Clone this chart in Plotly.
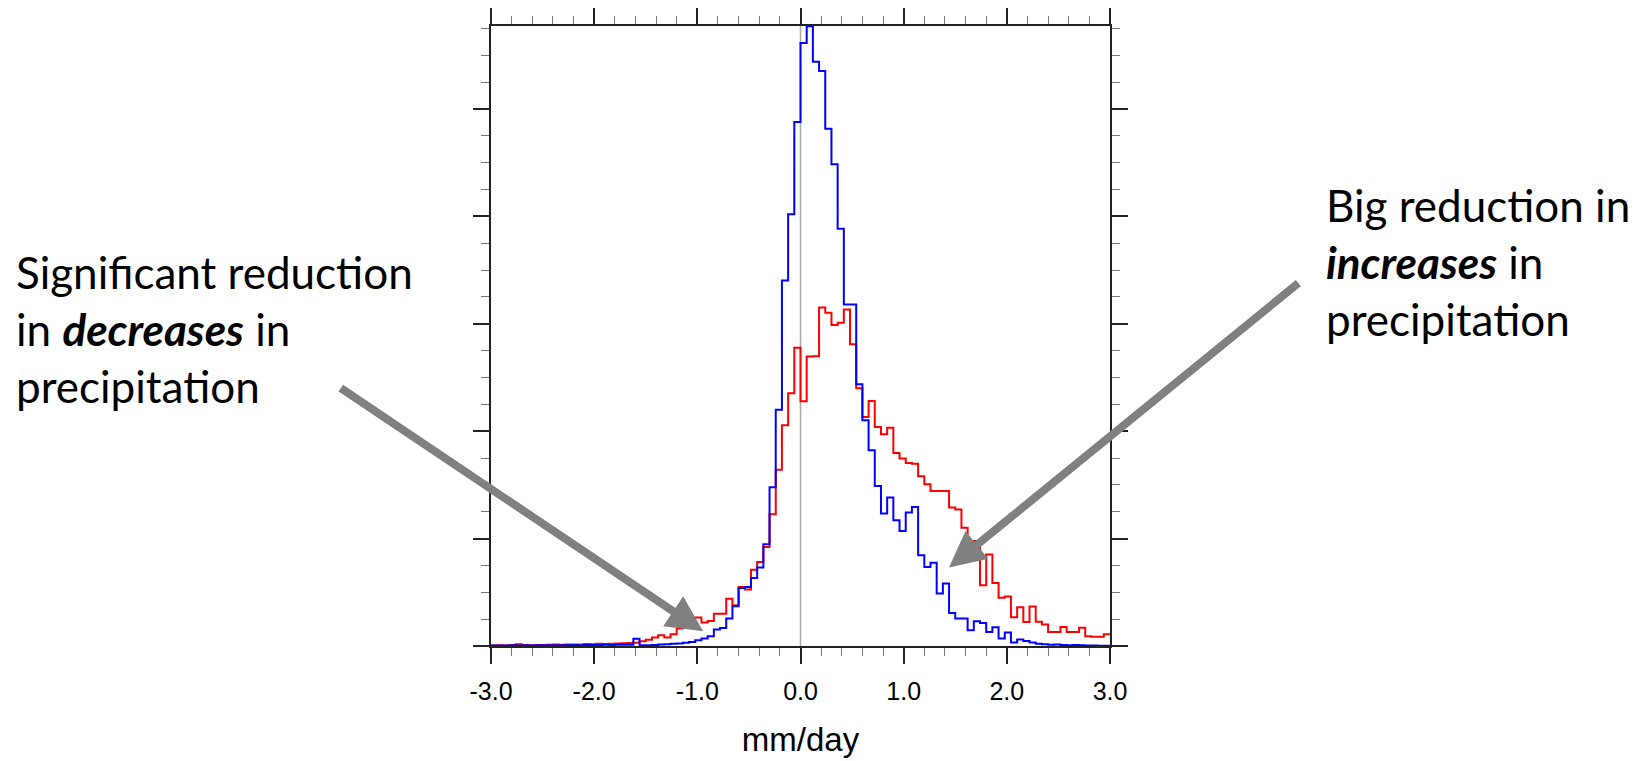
import plotly.graph_objects as go

# ---------------- data ----------------
BIN_START = -3.0
BIN_WIDTH = 0.06

# blue histogram (100 bins from -3.0 to 3.0), arbitrary frequency units
blue = [
    0.004, 0.005, 0.004, 0.006, 0.005, 0.006, 0.005, 0.007, 0.006, 0.007,
    0.008, 0.007, 0.008, 0.009, 0.008, 0.010, 0.009, 0.010, 0.011, 0.010,
    0.012, 0.011, 0.012, 0.068, 0.006, 0.008, 0.010, 0.013, 0.016, 0.020,
    0.024, 0.030, 0.037, 0.053, 0.069, 0.090, 0.153, 0.168, 0.255, 0.370,
    0.540, 0.550, 0.633, 0.730, 0.948, 1.479, 2.199, 3.404, 4.020, 4.880,
    5.615, 5.770, 5.440, 5.354, 4.817, 4.485, 3.886, 3.180, 3.180, 2.437,
    2.102, 1.822, 1.490, 1.233, 1.382, 1.170, 1.071, 1.242, 1.294, 0.844,
    0.736, 0.776, 0.488, 0.581, 0.307, 0.255, 0.255, 0.146, 0.230, 0.215,
    0.130, 0.175, 0.069, 0.125, 0.032, 0.060, 0.047, 0.032, 0.022, 0.016,
    0.012, 0.014, 0.010, 0.008, 0.009, 0.006, 0.005, 0.004, 0.003, 0.002,
]

# red histogram
red = [
    0.004, 0.006, 0.005, 0.008, 0.016, 0.010, 0.006, 0.008, 0.010, 0.012,
    0.013, 0.011, 0.014, 0.015, 0.013, 0.018, 0.016, 0.020, 0.018, 0.022,
    0.024, 0.026, 0.028, 0.031, 0.044, 0.059, 0.078, 0.100, 0.078, 0.109,
    0.162, 0.200, 0.261, 0.265, 0.218, 0.233, 0.301, 0.301, 0.441, 0.379,
    0.550, 0.525, 0.711, 0.782, 0.922, 1.226, 1.642, 2.055, 2.353, 2.778,
    2.280, 2.695, 2.697, 3.153, 3.102, 2.990, 3.009, 3.133, 2.810, 2.400,
    2.132, 2.281, 2.039, 1.971, 2.033, 1.797, 1.745, 1.704, 1.698, 1.580,
    1.506, 1.443, 1.443, 1.443, 1.289, 1.270, 1.100, 0.978, 0.978, 0.565,
    0.851, 0.587, 0.450, 0.460, 0.267, 0.360, 0.224, 0.368, 0.225, 0.200,
    0.130, 0.130, 0.177, 0.130, 0.130, 0.170, 0.090, 0.085, 0.085, 0.109,
]

x_ticks = [-3, -2, -1, 0, 1, 2, 3]
x_tick_labels = ["-3.0", "-2.0", "-1.0", "0.0", "1.0", "2.0", "3.0"]
x_title = "mm/day"

left_note = "Significant reduction<br>in <b><i>decreases</i></b> in<br>precipitation"
right_note = "Big reduction in<br><b><i>increases</i></b> in<br>precipitation"

# arrow endpoints (data coordinates: tail -> tip)
left_arrow = dict(tail=(-4.47, 2.41), tip=(-0.944, 0.137))
right_arrow = dict(tail=(4.84, 3.39), tip=(1.439, 0.730))

# ---------------- figure ----------------
n = len(blue)
edges = [BIN_START + BIN_WIDTH * i for i in range(n + 1)]

fig = go.Figure()
fig.add_trace(go.Scatter(x=edges, y=red + [red[-1]], mode="lines", line_shape="hv",
                         line=dict(color="#ff0000", width=2), showlegend=False))
fig.add_trace(go.Scatter(x=edges, y=blue + [blue[-1]], mode="lines", line_shape="hv",
                         line=dict(color="#0000ff", width=2), showlegend=False))

fig.add_shape(type="line", x0=0, x1=0, y0=0, y1=1, xref="x", yref="y domain",
              line=dict(color="#a8a8a8", width=1.5), layer="below")

axis_common = dict(showline=True, linecolor="#222222", linewidth=1.5, mirror="allticks",
                   ticks="outside", tickcolor="#222222", tickwidth=1.5, ticklen=16,
                   showgrid=False, zeroline=False, automargin=False)

fig.update_xaxes(range=[-3, 3], tickvals=x_ticks, ticktext=x_tick_labels,
                 tickfont=dict(family="Liberation Sans, Arial, sans-serif", size=25, color="black"),
                 ticklabelstandoff=6,
                 minor=dict(dtick=0.2, ticklen=8, tickcolor="#777777", tickwidth=1.2, showgrid=False),
                 title=dict(text=x_title, font=dict(family="Liberation Sans, Arial, sans-serif",
                                                    size=33, color="black"), standoff=24),
                 **axis_common)
fig.update_yaxes(range=[0, 5.773], dtick=1, tick0=0, showticklabels=False,
                 minor=dict(dtick=0.25, ticklen=8, tickcolor="#777777", tickwidth=1.2, showgrid=False),
                 **axis_common)

note_font = dict(family="Lato, Carlito, Calibri, sans-serif", size=44, color="black")
fig.add_annotation(text=left_note, xref="paper", yref="paper", x=-0.7705, y=0.649,
                   xanchor="left", yanchor="top", align="left", showarrow=False, font=note_font)
fig.add_annotation(text=right_note, xref="paper", yref="paper", x=1.345, y=0.757,
                   xanchor="left", yanchor="top", align="left", showarrow=False, font=note_font)

for arr in (left_arrow, right_arrow):
    fig.add_annotation(x=arr["tip"][0], y=arr["tip"][1], ax=arr["tail"][0], ay=arr["tail"][1],
                       xref="x", yref="y", axref="x", ayref="y", text="", showarrow=True,
                       arrowhead=2, arrowsize=0.9, arrowwidth=8, arrowcolor="#808080")

fig.update_layout(width=1652, height=761, plot_bgcolor="white", paper_bgcolor="white",
                  margin=dict(l=483, r=550.4, t=17.7, b=123.3))

fig.write_html("out.html")
